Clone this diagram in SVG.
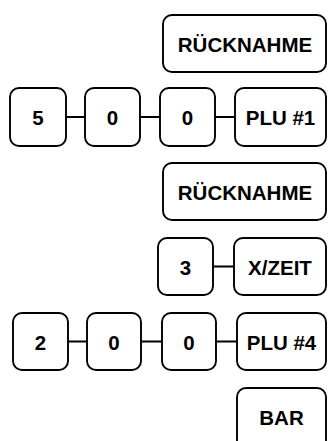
<svg xmlns="http://www.w3.org/2000/svg" width="331" height="441" viewBox="0 0 331 441">
<style>
.k{fill:#fff;stroke:#000;stroke-width:1.9}
.t{font-family:"Liberation Sans",Arial,sans-serif;font-weight:bold;font-size:20.5px;fill:#000;text-anchor:middle;dominant-baseline:central}
.c{stroke:#000;stroke-width:2;fill:none}
</style>
<rect width="331" height="441" fill="#fff"/>
<g id="connectors">
<line class="c" x1="66" y1="117" x2="85" y2="117"/>
<line class="c" x1="140" y1="117" x2="160" y2="117"/>
<line class="c" x1="215" y1="117" x2="235" y2="117"/>
<line class="c" x1="213" y1="266.5" x2="234" y2="266.5"/>
<line class="c" x1="68" y1="341.5" x2="87" y2="341.5"/>
<line class="c" x1="141" y1="341.5" x2="162" y2="341.5"/>
<line class="c" x1="216" y1="341.5" x2="237" y2="341.5"/>
</g>
<g id="n1"><rect class="k" x="163" y="15" width="163" height="57" rx="9"/><text class="t" x="245" y="44.5">RÜCKNAHME</text></g>
<g id="n2"><rect class="k" x="10" y="88" width="56" height="58" rx="9"/><text class="t" x="38" y="117.5">5</text></g>
<g id="n3"><rect class="k" x="85" y="88" width="55" height="58" rx="9"/><text class="t" x="112.5" y="117.5">0</text></g>
<g id="n4"><rect class="k" x="160" y="88" width="55" height="58" rx="9"/><text class="t" x="187.5" y="117.5">0</text></g>
<g id="n5"><rect class="k" x="235" y="88" width="91" height="58" rx="9"/><text class="t" x="280.5" y="117.5">PLU #1</text></g>
<g id="n6"><rect class="k" x="163" y="163" width="163" height="57" rx="9"/><text class="t" x="245" y="192.5">RÜCKNAHME</text></g>
<g id="n7"><rect class="k" x="158" y="238" width="55" height="57" rx="9"/><text class="t" x="185.5" y="267">3</text></g>
<g id="n8"><rect class="k" x="234" y="238" width="92" height="57" rx="9"/><text class="t" x="280" y="267">X/ZEIT</text></g>
<g id="n9"><rect class="k" x="13" y="313" width="55" height="57" rx="9"/><text class="t" x="40.5" y="342">2</text></g>
<g id="n10"><rect class="k" x="87" y="313" width="54" height="57" rx="9"/><text class="t" x="114" y="342">0</text></g>
<g id="n11"><rect class="k" x="162" y="313" width="54" height="57" rx="9"/><text class="t" x="189" y="342">0</text></g>
<g id="n12"><rect class="k" x="237" y="313" width="89" height="57" rx="9"/><text class="t" x="281.5" y="342">PLU #4</text></g>
<g id="n13"><rect class="k" x="237" y="388" width="89" height="70" rx="9"/><text class="t" x="281.5" y="417">BAR</text></g>
</svg>
